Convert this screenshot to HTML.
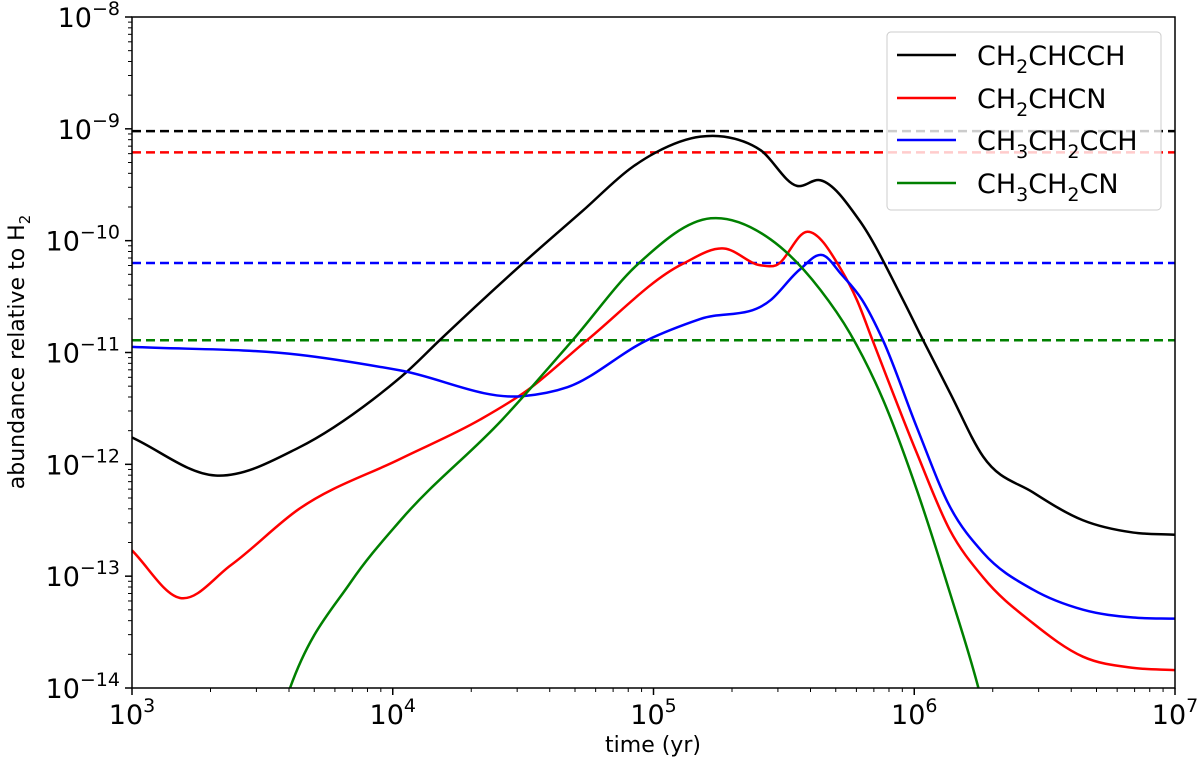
<!DOCTYPE html>
<html><head><meta charset="utf-8"><style>
body{margin:0;background:#fff}
svg text{font-family:"DejaVu Sans","Liberation Sans",sans-serif;fill:#000}
</style></head><body>
<svg id="chart" width="1200" height="767" viewBox="0 0 1200 767" xmlns="http://www.w3.org/2000/svg">
<defs><clipPath id="clip"><rect x="132" y="17" width="1043" height="671"/></clipPath></defs>
<g id="plot" clip-path="url(#clip)"></g>
<g id="axes"></g>
<text x="653" y="752" font-size="22" text-anchor="middle">time (yr)</text>
<text transform="translate(24,352) rotate(-90)" font-size="22" text-anchor="middle">abundance relative to H<tspan font-size="15" dy="6">2</tspan></text>
<g>
<rect x="887" y="32" width="274" height="178" rx="4" fill="#fff" fill-opacity="0.8" stroke="#ccc" stroke-width="1"/>
<line x1="897" y1="55" x2="956" y2="55" stroke="#000" stroke-width="2.5"/>
<text x="977" y="65" font-size="27">CH<tspan font-size="19" dy="8">2</tspan><tspan dy="-8">CHCCH</tspan></text>
<line x1="897" y1="98" x2="956" y2="98" stroke="#f00" stroke-width="2.5"/>
<text x="977" y="108" font-size="27">CH<tspan font-size="19" dy="8">2</tspan><tspan dy="-8">CHCN</tspan></text>
<line x1="897" y1="140" x2="956" y2="140" stroke="#00f" stroke-width="2.5"/>
<text x="977" y="150" font-size="27">CH<tspan font-size="19" dy="8">3</tspan><tspan dy="-8">CH</tspan><tspan font-size="19" dy="8">2</tspan><tspan dy="-8">CCH</tspan></text>
<line x1="897" y1="183" x2="956" y2="183" stroke="#008000" stroke-width="2.5"/>
<text x="977" y="193" font-size="27">CH<tspan font-size="19" dy="8">3</tspan><tspan dy="-8">CH</tspan><tspan font-size="19" dy="8">2</tspan><tspan dy="-8">CN</tspan></text>
</g>
</svg>
<script>
const seriesNames=['CH2CHCCH','CH2CHCN','CH3CH2CCH','CH3CH2CN'];
const seriesColors=['#000','#f00','#00f','#008000'];
const blackT=[3,3.32,3.64,3.924,4.055,4.18,4.50,4.73,4.92,5.01,5.18,5.27,5.41,5.55,5.64,5.79,5.957,6.034,6.137,6.264,6.455,6.647,6.84,7];
const blackV=[-11.76,-12.10,-11.85,-11.42,-11.17,-10.89,-10.20,-9.73,-9.34,-9.21,-9.07,-9.07,-9.19,-9.51,-9.46,-9.82,-10.53,-10.89,-11.36,-11.93,-12.25,-12.50,-12.61,-12.63];
const redT=[3,3.184,3.38,3.64,4.03,4.335,4.515,4.745,5.11,5.27,5.41,5.47,5.59,5.72,5.78,5.84,6.01,6.137,6.264,6.455,6.647,6.84,7];
const redV=[-12.77,-13.195,-12.90,-12.40,-11.95,-11.60,-11.34,-10.89,-10.21,-10.07,-10.22,-10.22,-9.92,-10.26,-10.53,-10.89,-11.90,-12.59,-13.01,-13.42,-13.72,-13.82,-13.84];
const blueT=[3,3.64,4.028,4.50,4.67,4.975,5.18,5.45,5.56,5.65,5.72,5.80,5.88,6.01,6.137,6.264,6.455,6.647,6.84,7];
const blueV=[-10.95,-11.02,-11.16,-11.39,-11.31,-10.89,-10.70,-10.53,-10.26,-10.13,-10.30,-10.53,-10.89,-11.67,-12.38,-12.79,-13.12,-13.30,-13.37,-13.38];
const greenT=[3.50,3.606,3.84,4.03,4.42,4.69,4.94,5.22,5.45,5.64,5.754,5.88,6.01,6.137,6.245,6.30];
const greenV=[-14.8,-14.0,-13.05,-12.50,-11.60,-10.89,-10.21,-9.80,-9.99,-10.44,-10.83,-11.42,-12.23,-13.15,-13.99,-14.5];
const observedV=[-9.02,-9.21,-10.2,-10.89];
const xTicks=[3,4,5,6,7];
const yTicks=[-14,-13,-12,-11,-10,-9,-8];
const X0=132,X1=1175,Y0=688,Y1=17;
const xs=t=>X0+(t-3)/4*(X1-X0);
const ys=v=>Y0-(v+14)/6*(Y0-Y1);
const NS='http://www.w3.org/2000/svg';
const plot=document.getElementById('plot'),axes=document.getElementById('axes');
function mk(tag,attrs,parent){const e=document.createElementNS(NS,tag);for(const k in attrs)e.setAttribute(k,attrs[k]);parent.appendChild(e);return e;}
function pathD(T,V){const p=T.map((t,i)=>[xs(t),ys(V[i])]);const n=p.length;
const s=[];for(let i=0;i<n-1;i++)s.push((p[i+1][1]-p[i][1])/(p[i+1][0]-p[i][0]));
const m=p.map((_,i)=>{if(i===0)return s[0];if(i===n-1)return s[n-2];
const h0=p[i][0]-p[i-1][0],h1=p[i+1][0]-p[i][0];return (s[i-1]*h1+s[i]*h0)/(h0+h1);});
let d='M'+p[0][0]+','+p[0][1];
for(let i=0;i<n-1;i++){const h=(p[i+1][0]-p[i][0])/3;
d+=' C'+(p[i][0]+h)+','+(p[i][1]+m[i]*h)+' '+(p[i+1][0]-h)+','+(p[i+1][1]-m[i+1]*h)+' '+p[i+1][0]+','+p[i+1][1];}
return d;}
observedV.forEach((v,i)=>{const l=mk('line',{x1:X0,x2:X1,y1:ys(v),y2:ys(v),stroke:seriesColors[i],'stroke-width':2.5,'stroke-dasharray':'9,5'},plot);

});
[[blackT,blackV],[redT,redV],[blueT,blueV],[greenT,greenV]].forEach((s,i)=>{const p=mk('path',{d:pathD(s[0],s[1]),fill:'none',stroke:seriesColors[i],'stroke-width':2.5},plot);

});
mk('rect',{x:X0,y:Y1,width:X1-X0,height:Y0-Y1,fill:'none',stroke:'#000','stroke-width':1.5},axes);
xTicks.forEach(t=>{const x=xs(t);mk('line',{x1:x,x2:x,y1:Y0,y2:Y0+7,stroke:'#000','stroke-width':1.5},axes);
const tx=mk('text',{x:x,y:Y0+36,'font-size':27,'text-anchor':'middle'},axes);


tx.innerHTML='10<tspan font-size="19" dy="-12">'+t+'</tspan>';
if(t<7)for(let m=2;m<10;m++){const xm=xs(t+Math.log10(m));mk('line',{x1:xm,x2:xm,y1:Y0,y2:Y0+4,stroke:'#000','stroke-width':1},axes);}});
yTicks.forEach(v=>{const y=ys(v);mk('line',{x1:X0-7,x2:X0,y1:y,y2:y,stroke:'#000','stroke-width':1.5},axes);
const tx=mk('text',{x:X0-12,y:y+10,'font-size':27,'text-anchor':'end'},axes);


tx.innerHTML='10<tspan font-size="19" dy="-12">\u2212'+(-v)+'</tspan>';
if(v<-8)for(let m=2;m<10;m++){const ym=ys(v+Math.log10(m));mk('line',{x1:X0-4,x2:X0,y1:ym,y2:ym,stroke:'#000','stroke-width':1},axes);}});
</script>
</body></html>
